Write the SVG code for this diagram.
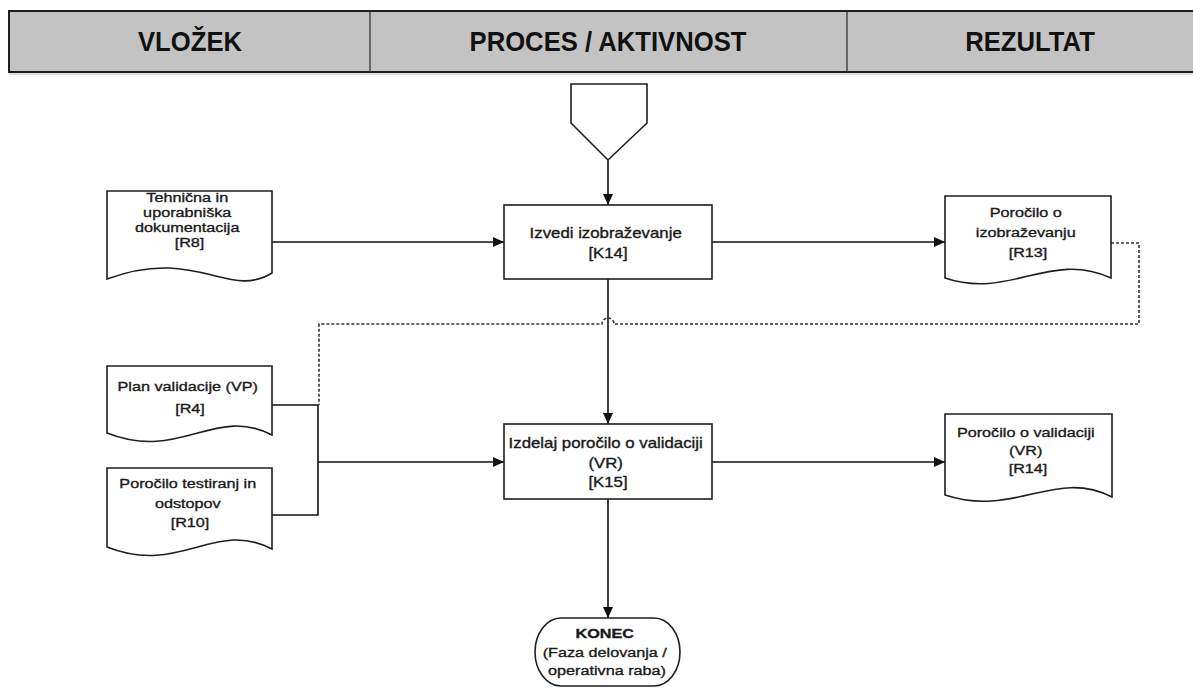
<svg xmlns="http://www.w3.org/2000/svg" width="1193" height="688" viewBox="0 0 1193 688">
  <defs>
    <marker id="arrow" markerWidth="12" markerHeight="12" refX="11" refY="6" orient="auto" markerUnits="userSpaceOnUse">
      <path d="M0,1 L11,6 L0,11 Z" fill="#111"/>
    </marker>
    <style>
      .hdr { fill: #c3c3c3; stroke: none; }
      .hdr-line { stroke: #1e1e1e; stroke-width: 2; fill: none; }
      .hdr-div { stroke: #2a2a2a; stroke-width: 1.2; }
      .hdr-text { font-family: "Liberation Sans", Arial, sans-serif; font-weight: bold; font-size: 27px; fill: #111; text-anchor: middle; }
      .shape { fill: #fff; stroke: #1e1e1e; stroke-width: 1.6; }
      .t { font-family: "Liberation Sans", Arial, sans-serif; font-size: 13.5px; fill: #1a1a1a; stroke: #1a1a1a; stroke-width: 0.35; text-anchor: middle; }
      .tp { font-family: "Liberation Sans", Arial, sans-serif; font-size: 14px; fill: #1a1a1a; stroke: #1a1a1a; stroke-width: 0.35; text-anchor: middle; }
      .conn { stroke: #111; stroke-width: 1.6; fill: none; }
      .dot { stroke: #333; stroke-width: 1.6; fill: none; stroke-dasharray: 3 2; }
    </style>
  </defs>

  <rect width="1193" height="688" fill="#fff"/>

  <!-- header band -->
  <g id="header">
    <rect class="hdr" x="9" y="11" width="1184" height="61"/>
    <line x1="9" y1="11" x2="1193" y2="11" class="hdr-line"/>
    <line x1="9" y1="72" x2="1193" y2="72" class="hdr-line"/>
    <line x1="9" y1="74" x2="1193" y2="74" stroke="#bbb" stroke-width="1"/>
    <line x1="9" y1="10" x2="9" y2="73" class="hdr-line"/>
    <line x1="370" y1="11" x2="370" y2="72" class="hdr-div"/>
    <line x1="847" y1="11" x2="847" y2="72" class="hdr-div"/>
    <text class="hdr-text" transform="translate(190 0) scale(0.95 1)" x="0" y="51">VLOŽEK</text>
    <text class="hdr-text" transform="translate(608 0) scale(0.95 1)" x="0" y="51">PROCES / AKTIVNOST</text>
    <text class="hdr-text" transform="translate(1030 0) scale(0.95 1)" x="0" y="51">REZULTAT</text>
  </g>

  <!-- connectors -->
  <g id="connectors">
    <line class="conn" x1="608" y1="160" x2="608" y2="205" marker-end="url(#arrow)"/>
    <line class="conn" x1="272" y1="242" x2="504" y2="242" marker-end="url(#arrow)"/>
    <line class="conn" x1="712" y1="242" x2="945" y2="242" marker-end="url(#arrow)"/>
    <line class="conn" x1="608" y1="279" x2="608" y2="424" marker-end="url(#arrow)"/>
    <polyline class="conn" points="272,405 318,405 318,515 272,515"/>
    <line class="conn" x1="318" y1="462" x2="504" y2="462" marker-end="url(#arrow)"/>
    <line class="conn" x1="712" y1="462" x2="945" y2="462" marker-end="url(#arrow)"/>
    <line class="conn" x1="608" y1="499" x2="608" y2="618" marker-end="url(#arrow)"/>
    <!-- dotted feedback loop with a line hop over the vertical flow -->
    <path class="dot" d="M1111,243 H1139 V324 H614 A6,6 0 0 0 602,324 H319 V405"/>
  </g>

  <!-- start off-page connector -->
  <g id="start">
    <path class="shape" d="M571,84 H647 V123 L608,160 L571,123 Z"/>
  </g>

  <!-- R8 -->
  <g id="doc-r8">
    <path class="shape" d="M107,191 H272 V273 C229,300 196,246 107,279 Z"/>
    <text class="t" transform="translate(189.5 0) scale(1.2 1)">
      <tspan x="0" y="202.5">Tehnična in</tspan>
      <tspan x="0" y="217.5">uporabniška</tspan>
      <tspan x="0" y="232.5">dokumentacija</tspan>
      <tspan x="0" y="247.5">[R8]</tspan>
    </text>
  </g>

  <!-- K14 -->
  <g id="proc-k14">
    <rect class="shape" x="504" y="205" width="208" height="74"/>
    <text class="tp" transform="translate(608 0) scale(1.2 1)">
      <tspan x="0" y="238">Izvedi izobraževanje</tspan>
      <tspan x="0" y="258">[K14]</tspan>
    </text>
  </g>

  <!-- R13 -->
  <g id="doc-r13">
    <path class="shape" d="M945,196 H1111 V278 C1050,250 1010,300 945,278 Z"/>
    <text class="t" transform="translate(1028 0) scale(1.2 1)">
      <tspan x="0" y="217">Poročilo o</tspan>
      <tspan x="0" y="237">izobraževanju</tspan>
      <tspan x="0" y="257">[R13]</tspan>
    </text>
  </g>

  <!-- R4 -->
  <g id="doc-r4">
    <path class="shape" d="M107,366 H272 V435 C215,405 180,462 107,433 Z"/>
    <text class="t" transform="translate(190 0) scale(1.2 1)">
      <tspan x="0" y="391">Plan validacije (VP)</tspan>
      <tspan x="0" y="413">[R4]</tspan>
    </text>
  </g>

  <!-- R10 -->
  <g id="doc-r10">
    <path class="shape" d="M107,468 H272 V549 C215,519 180,576 107,547 Z"/>
    <text class="t" transform="translate(190 0) scale(1.2 1)">
      <tspan x="0" y="488">Poročilo testiranj in</tspan>
      <tspan x="0" y="508">odstopov</tspan>
      <tspan x="0" y="527">[R10]</tspan>
    </text>
  </g>

  <!-- K15 -->
  <g id="proc-k15">
    <rect class="shape" x="504" y="424" width="208" height="75"/>
    <text class="tp" transform="translate(608 0) scale(1.2 1)">
      <tspan x="0" y="448">Izdelaj poročilo o validaciji</tspan>
      <tspan x="0" y="468">(VR)</tspan>
      <tspan x="0" y="487">[K15]</tspan>
    </text>
  </g>

  <!-- R14 -->
  <g id="doc-r14">
    <path class="shape" d="M945,414 H1112 V497 C1055,468 1015,518 945,495 Z"/>
    <text class="t" transform="translate(1028 0) scale(1.2 1)">
      <tspan x="0" y="437">Poročilo o validaciji</tspan>
      <tspan x="0" y="455">(VR)</tspan>
      <tspan x="0" y="473">[R14]</tspan>
    </text>
  </g>

  <!-- end terminator -->
  <g id="end">
    <rect class="shape" x="535" y="618" width="145" height="68" rx="26" ry="34"/>
    <text class="t" transform="translate(607 0) scale(1.2 1)">
      <tspan x="0" y="638" font-weight="bold">KONEC</tspan>
      <tspan x="0" y="657">(Faza delovanja /</tspan>
      <tspan x="0" y="675">operativna raba)</tspan>
    </text>
  </g>
</svg>
